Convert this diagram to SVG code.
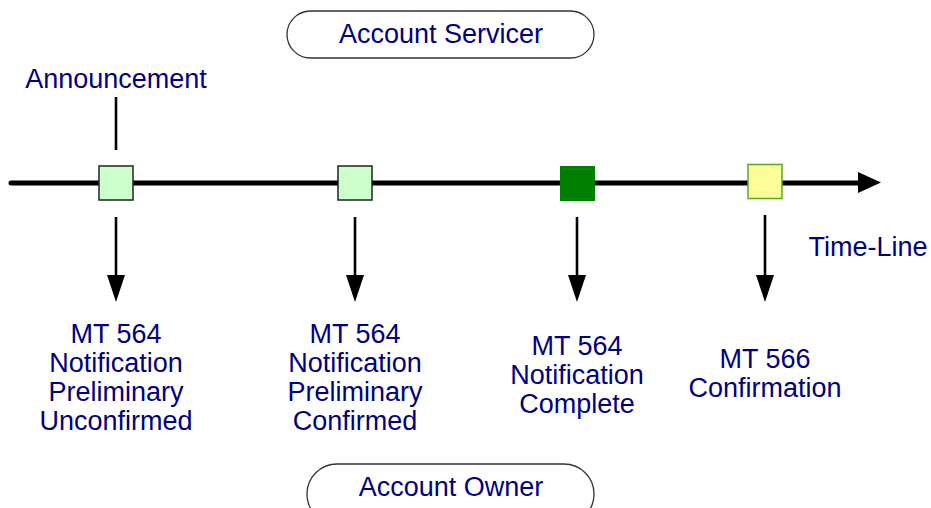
<svg xmlns="http://www.w3.org/2000/svg" width="931" height="508" viewBox="0 0 931 508">
<style>
.t{font-family:"Liberation Sans",Arial,sans-serif;font-size:27px;fill:#000080;text-anchor:middle}
.pill{fill:#fff;stroke:#333;stroke-width:1.3}
.light{fill:#ccffcc;stroke:#222;stroke-width:1.5}
.dark{fill:#008000;stroke:#008000;stroke-width:1}
.yel{fill:#ffff99;stroke:#55aa22;stroke-width:1.5}
.arr{stroke:#000;stroke-width:2.6;fill:none}
.head{fill:#000}
</style>
<rect width="931" height="508" fill="#fff"/>
<g id="connectors">
<line x1="11" y1="183" x2="860" y2="183" stroke="#000" stroke-width="5" stroke-linecap="round"/>
<path d="M858 172L881 182.5L858 193Z" class="head"/>
<line x1="116" y1="97" x2="116" y2="150" class="arr"/>
<line x1="116" y1="217" x2="116" y2="276" class="arr"/>
<path d="M107 275L125 275L116 302Z" class="head"/>
<line x1="355" y1="217" x2="355" y2="276" class="arr"/>
<path d="M346 275L364 275L355 302Z" class="head"/>
<line x1="577" y1="217" x2="577" y2="276" class="arr"/>
<path d="M568 275L586 275L577 302Z" class="head"/>
<line x1="765" y1="215" x2="765" y2="276" class="arr"/>
<path d="M756 275L774 275L765 302Z" class="head"/>
</g>
<g id="account-servicer">
<rect x="287" y="11" width="307" height="47" rx="23.5" class="pill"/>
<text x="441" y="43" class="t">Account Servicer</text>
</g>
<g id="account-owner">
<rect x="307" y="464" width="287" height="60" rx="30" class="pill"/>
<text x="451" y="496" class="t">Account Owner</text>
</g>
<g id="announcement">
<text x="116" y="88" class="t">Announcement</text>
</g>
<g id="timeline-label">
<text x="868" y="256" class="t">Time-Line</text>
</g>
<g id="event1">
<rect x="99" y="166" width="34" height="34" class="light"/>
<text class="t"><tspan x="116" y="343">MT 564</tspan><tspan x="116" y="372">Notification</tspan><tspan x="116" y="401">Preliminary</tspan><tspan x="116" y="430">Unconfirmed</tspan></text>
</g>
<g id="event2">
<rect x="338" y="166" width="34" height="34" class="light"/>
<text class="t"><tspan x="355" y="343">MT 564</tspan><tspan x="355" y="372">Notification</tspan><tspan x="355" y="401">Preliminary</tspan><tspan x="355" y="430">Confirmed</tspan></text>
</g>
<g id="event3">
<rect x="560.5" y="166.5" width="34" height="34" class="dark"/>
<text class="t"><tspan x="577" y="355">MT 564</tspan><tspan x="577" y="384">Notification</tspan><tspan x="577" y="413">Complete</tspan></text>
</g>
<g id="event4">
<rect x="748" y="164.5" width="34" height="34" class="yel"/>
<text class="t"><tspan x="765" y="368">MT 566</tspan><tspan x="765" y="397">Confirmation</tspan></text>
</g>
</svg>
